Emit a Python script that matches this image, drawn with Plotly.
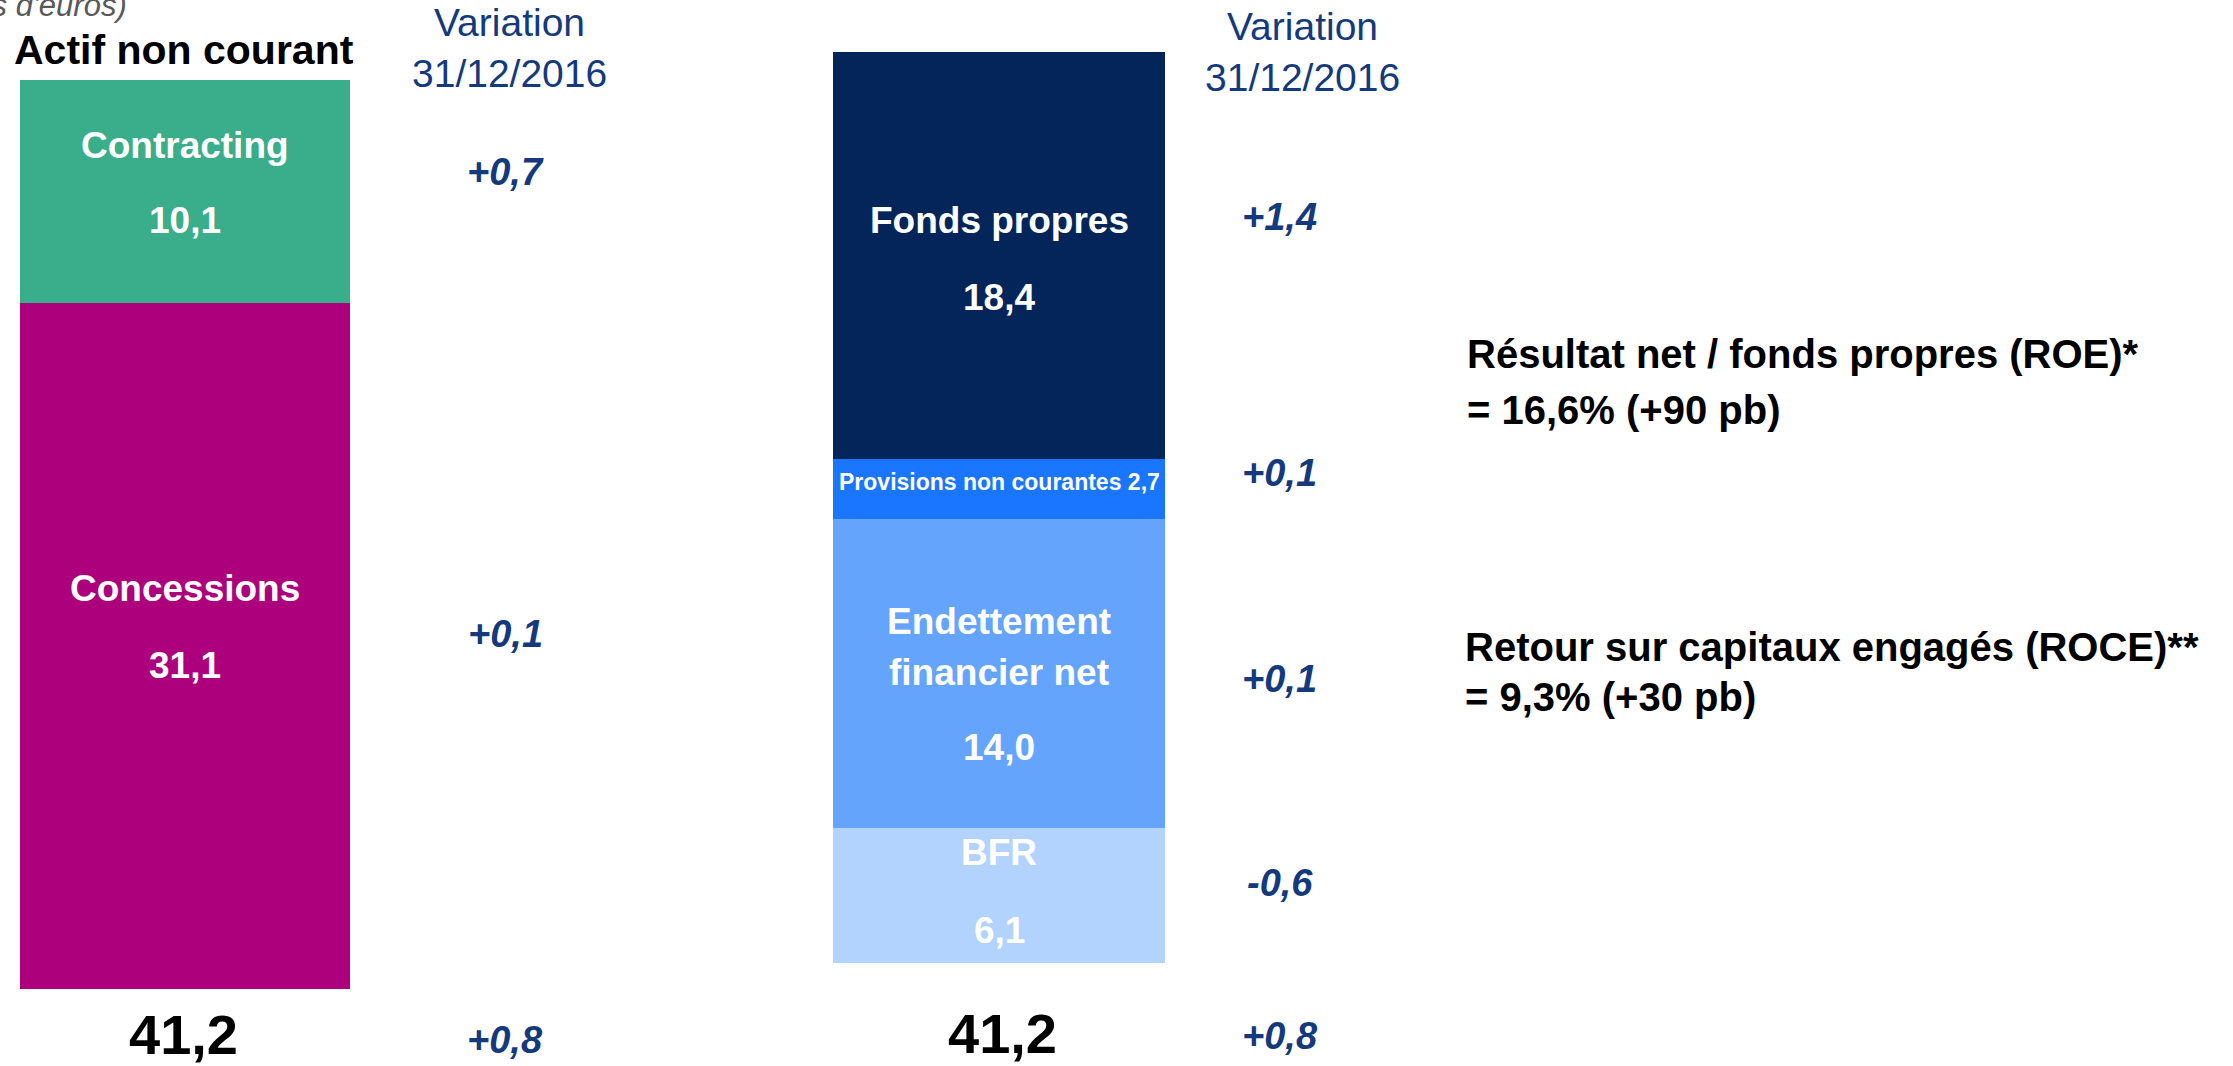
import plotly.graph_objects as go

W, H = 2233, 1066

# ---------------- data ----------------
unit_note = "(en milliards d'euros)"
actif_title = "Actif non courant"
header_lines = ["Variation", "31/12/2016"]

actif_labels = ["Concessions", "Contracting"]          # bottom -> top
actif_values = [31.1, 10.1]
actif_var = [0.1, 0.7]

passif_labels = ["BFR", "Endettement financier net", "Provisions non courantes", "Fonds propres"]  # bottom -> top
passif_values = [6.1, 14.0, 2.7, 18.4]
passif_var = [-0.6, 0.1, 0.1, 1.4]

total_var = 0.8

ratio_titles = ["Résultat net / fonds propres (ROE)*", "Retour sur capitaux engagés (ROCE)**"]
ratio_values = ["= 16,6% (+90 pb)", "= 9,3% (+30 pb)"]

# ---------------- styles ----------------
actif_colors = ["#ad007c", "#3aad8a"]
passif_colors = ["#b3d3ff", "#64a4fd", "#1a75ff", "#032559"]
NAVY = "#143a7d"
FONT = "Liberation Sans, Arial, sans-serif"


def fr(v, sign=False):
    s = f"{v:+.1f}" if sign else f"{v:.1f}"
    return s.replace(".", ",")


def px_x(x):
    return x / W


def px_y(y):
    return 1 - y / H


fig = go.Figure()

for lab, val, col in zip(actif_labels, actif_values, actif_colors):
    fig.add_trace(go.Bar(x=[0], y=[val], width=1, name=lab, marker=dict(color=col, line=dict(width=0)),
                         xaxis="x", yaxis="y", showlegend=False, hoverinfo="skip"))
for lab, val, col in zip(passif_labels, passif_values, passif_colors):
    fig.add_trace(go.Bar(x=[0], y=[val], width=1, name=lab, marker=dict(color=col, line=dict(width=0)),
                         xaxis="x2", yaxis="y2", showlegend=False, hoverinfo="skip"))

total_actif = round(sum(actif_values), 1)
total_passif = round(sum(passif_values), 1)

annotations = []


def ann(text, x, y, size, color="white", xanchor="center"):
    annotations.append(dict(text=text, x=px_x(x), y=px_y(y), xref="paper", yref="paper",
                            xanchor=xanchor, yanchor="middle", showarrow=False,
                            font=dict(family=FONT, size=size, color=color)))


# unit note (clipped at top-left, as in the source slide)
annotations.append(dict(text=f"<i>{unit_note}</i>", x=px_x(129), y=px_y(5), xref="paper", yref="paper",
                        xanchor="right", yanchor="middle", showarrow=False,
                        font=dict(family=FONT, size=31, color="#595959")))

ann(f"<b>{actif_title}</b>", 184, 50, 41, "black")

# headers
ann(header_lines[0], 509, 22, 39, NAVY)
ann(header_lines[1], 509, 74, 39, NAVY)
ann(header_lines[0], 1302, 26, 39, NAVY)
ann(header_lines[1], 1302, 77, 39, NAVY)

# left bar labels
ann(f"<b>{actif_labels[1]}</b>", 185, 146, 37)
ann(f"<b>{fr(actif_values[1])}</b>", 185, 221, 37)
ann(f"<b>{actif_labels[0]}</b>", 185, 588, 37)
ann(f"<b>{fr(actif_values[0])}</b>", 185, 665, 37)

# left variations
ann(f"<b><i>{fr(actif_var[1], True)}</i></b>", 505, 172, 38, NAVY)
ann(f"<b><i>{fr(actif_var[0], True)}</i></b>", 505, 634, 38, NAVY)
ann(f"<b><i>{fr(total_var, True)}</i></b>", 505, 1040, 38, NAVY)

# totals
ann(f"<b>{fr(total_actif)}</b>", 183, 1034, 56, "black")
ann(f"<b>{fr(total_passif)}</b>", 1002, 1033, 56, "black")

# right bar labels
endet_words = passif_labels[1].split(" ")
ann(f"<b>{passif_labels[3]}</b>", 999, 220, 37)
ann(f"<b>{fr(passif_values[3])}</b>", 999, 297, 37)
ann(f"<b>{passif_labels[2]} {fr(passif_values[2])}</b>", 999, 482, 23)
ann(f"<b>{endet_words[0]}</b>", 999, 621, 37)
ann(f"<b>{' '.join(endet_words[1:])}</b>", 999, 672, 37)
ann(f"<b>{fr(passif_values[1])}</b>", 999, 747, 37)
ann(f"<b>{passif_labels[0]}</b>", 999, 852, 37)
ann(f"<b>{fr(passif_values[0])}</b>", 999, 930, 37)

# right variations
ann(f"<b><i>{fr(passif_var[3], True)}</i></b>", 1280, 217, 38, NAVY)
ann(f"<b><i>{fr(passif_var[2], True)}</i></b>", 1280, 473, 38, NAVY)
ann(f"<b><i>{fr(passif_var[1], True)}</i></b>", 1280, 679, 38, NAVY)
ann(f"<b><i>{fr(passif_var[0], True)}</i></b>", 1280, 883, 38, NAVY)
ann(f"<b><i>{fr(total_var, True)}</i></b>", 1280, 1036, 38, NAVY)

# ratios
ann(f"<b>{ratio_titles[0]}</b>", 1465, 354, 40, "black", "left")
ann(f"<b>{ratio_values[0]}</b>", 1465, 410, 40, "black", "left")
ann(f"<b>{ratio_titles[1]}</b>", 1463, 647, 40, "black", "left")
ann(f"<b>{ratio_values[1]}</b>", 1463, 697, 40, "black", "left")

ax_common = dict(visible=False, fixedrange=True, showgrid=False, zeroline=False)

fig.update_layout(
    width=W, height=H,
    margin=dict(l=0, r=0, t=0, b=0),
    paper_bgcolor="white", plot_bgcolor="white",
    barmode="stack", bargap=0,
    xaxis=dict(domain=[20 / W, 350 / W], range=[-0.5, 0.5], anchor="y", **ax_common),
    yaxis=dict(domain=[1 - 989 / H, 1 - 80 / H], range=[0, total_actif], anchor="x", **ax_common),
    xaxis2=dict(domain=[833 / W, 1165 / W], range=[-0.5, 0.5], anchor="y2", **ax_common),
    yaxis2=dict(domain=[1 - 963 / H, 1 - 52 / H], range=[0, total_passif], anchor="x2", **ax_common),
    annotations=annotations,
    showlegend=False,
)

fig.write_html(
    "out.html",
    config={"displayModeBar": False},
    post_script="document.body.style.margin='0';document.body.style.overflow='hidden';",
)
